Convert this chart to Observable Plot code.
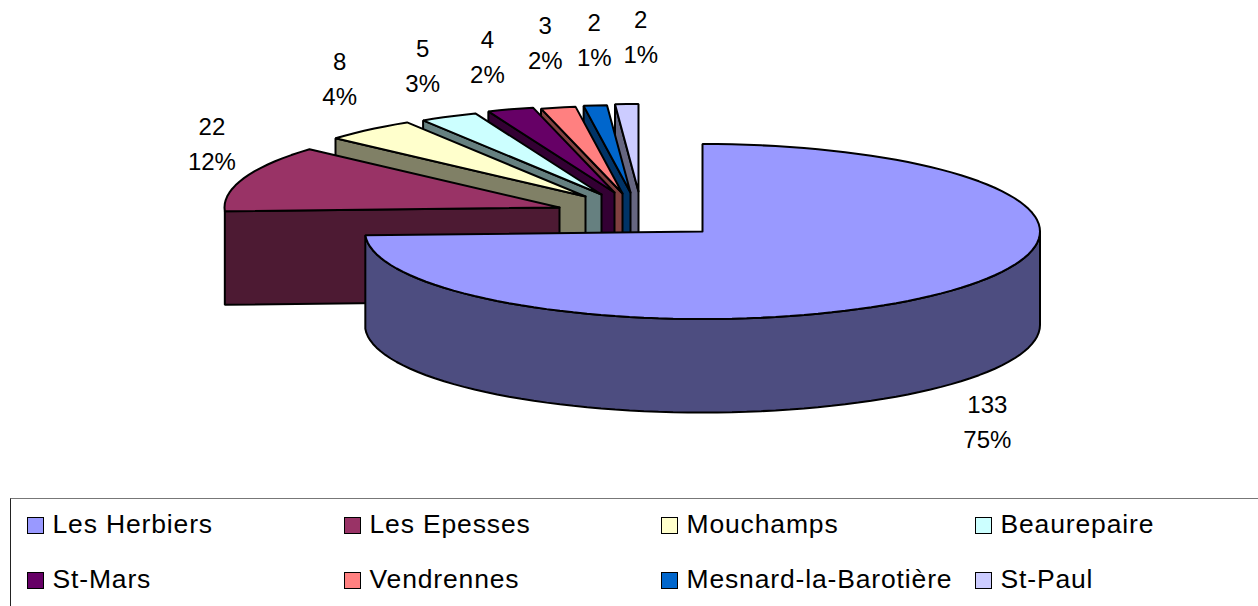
<!DOCTYPE html>
<html>
<head>
<meta charset="utf-8">
<script src="https://cdn.jsdelivr.net/npm/d3@7"></script>
<script src="https://cdn.jsdelivr.net/npm/@observablehq/plot@0.6"></script>
<style>
  html, body { margin: 0; padding: 0; background: #fff; overflow: hidden; }
  body { width: 1258px; height: 606px; font-family: "Liberation Sans", Arial, sans-serif; }
  svg { display: block; }
  #legend {
    position: relative; box-sizing: border-box; width: 1248px; height: 108px; margin-left: 10px;
    border-top: 1.5px solid #777; border-left: 1.5px solid #222;
    display: grid; grid-template-columns: 317px 317px 314px 260px; grid-template-rows: 54.5px 54.5px;
    padding: 0 0 0 14.5px; color: #000; font-size: 26.5px; letter-spacing: 0.85px; overflow: hidden;
  }
  #legend .item { position: relative; white-space: nowrap; }
  #legend .swatch { position: absolute; left: 1px; top: 18px; width: 15px; height: 15px; border: 1.5px solid #000; box-sizing: content-box; }
  #legend .name { position: absolute; left: 27px; top: 10px; line-height: 30px; }
</style>
</head>
<body>
<div id="chart"></div>
<div id="legend"></div>
<script>
// Data
const communes = ["Les Herbiers", "Les Epesses", "Mouchamps", "Beaurepaire", "St-Mars", "Vendrennes", "Mesnard-la-Barotière", "St-Paul"];
const counts = [133, 22, 8, 5, 4, 3, 2, 2];
const percents = ["75%", "12%", "4%", "3%", "2%", "2%", "1%", "1%"];
const colors = ["#9999FF", "#993366", "#FFFFCC", "#CCFFFF", "#660066", "#FF8080", "#0066CC", "#CCCCFF"];

// Layout of the exploded 3D pie
const radiiX = [337.5, 335, 335, 335, 335, 335, 335, 335];
const ry = 87.5, depth = 93.5;
const apexes = [[702, 231], [559, 207], [585, 196], [601, 194], [614, 192], [622, 193], [630, 192], [638, 191]];
const labelOffsets = [[41, 37], [-32, -33], [-29.5, -50], [-26, -50], [-23, -52], [-13, -64], [-1, -65], [14, -66]];
const lineGap = 17.5;

const total = d3.sum(counts);
const cumul = d3.cumsum(counts);
const startAngle = (i) => (i === 0 ? 0 : cumul[i - 1] / total) * 2 * Math.PI;
const endAngle = (i) => (cumul[i] / total) * 2 * Math.PI;
const half = (c) => { const r = d3.rgb(c); return d3.rgb(r.r / 2, r.g / 2, r.b / 2).formatHex(); };
const rim = (i, a, dz = 0) => ({ x: apexes[i][0] + radiiX[i] * Math.sin(a), y: apexes[i][1] - ry * Math.cos(a) + dz });

const shapes = [];
function addShape(id, color, pts) {
  [...pts, pts[0]].forEach((p) => shapes.push({ id, color, x: p.x, y: p.y }));
}
function arc(i, a0, a1, dz = 0) {
  const n = Math.max(2, Math.ceil(Math.abs(a1 - a0) / (2.5 * Math.PI / 180)));
  return d3.range(n + 1).map((k) => rim(i, a0 + (a1 - a0) * k / n, dz));
}
// Painted from the back slice to the front one
for (let i = communes.length - 1; i >= 1; --i) {
  const [ax, ay] = apexes[i];
  const a0 = startAngle(i), a1 = endAngle(i);
  addShape(`face${i}`, half(colors[i]), [{ x: ax, y: ay }, rim(i, a0), rim(i, a0, depth), { x: ax, y: ay + depth }]);
  addShape(`top${i}`, colors[i], [{ x: ax, y: ay }, ...arc(i, a0, a1)]);
}
const mainEnd = endAngle(0);
addShape("wall0", half(colors[0]), [...arc(0, Math.PI / 2, mainEnd), ...arc(0, mainEnd, Math.PI / 2, depth)]);
addShape("top0", colors[0], [{ x: apexes[0][0], y: apexes[0][1] }, ...arc(0, 0, mainEnd)]);

// Data labels, placed from each slice's mid angle
const labels = counts.map((c, i) => {
  const a = (startAngle(i) + endAngle(i)) / 2;
  const p = rim(i, a, i === 0 ? depth : 0);
  return { count: String(c), pct: percents[i], x: p.x + labelOffsets[i][0], y: p.y + labelOffsets[i][1] };
});

const plot = Plot.plot({
  width: 1258, height: 498,
  margin: 0,
  x: { domain: [0, 1258], range: [0, 1258], axis: null },
  y: { domain: [0, 498], range: [0, 498], axis: null },
  color: { type: "identity" },
  style: { background: "#fff", overflow: "visible" },
  marks: [
    Plot.line(shapes, { x: "x", y: "y", z: "id", fill: "color", stroke: "#000", strokeWidth: 2, strokeLinejoin: "miter", curve: "linear" }),
    Plot.text(labels, { x: "x", y: (d) => d.y - lineGap, text: "count", fontSize: 24, fontFamily: "Liberation Sans", fill: "#000", textAnchor: "middle" }),
    Plot.text(labels, { x: "x", y: (d) => d.y + lineGap, text: "pct", fontSize: 24, fontFamily: "Liberation Sans", fill: "#000", textAnchor: "middle" })
  ]
});
document.getElementById("chart").appendChild(plot);

const legend = d3.select("#legend");
communes.forEach((name, i) => {
  const item = legend.append("div").attr("class", "item");
  item.append("div").attr("class", "swatch").style("background", colors[i]);
  item.append("div").attr("class", "name").text(name);
});
</script>
</body>
</html>
